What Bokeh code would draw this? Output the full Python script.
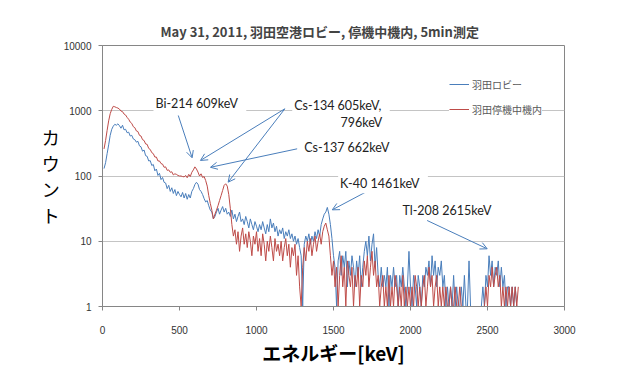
from bokeh.plotting import figure
from bokeh.models import (Range1d, FixedTicker, NumeralTickFormatter, Label, Arrow,
                          OpenHead, Legend, LegendItem, ColumnDataSource)
from bokeh.embed import file_html
from bokeh.resources import INLINE

# ---------------- data ----------------
title_text = "May 31, 2011, 羽田空港ロビー, 停機中機内, 5min測定"
x_title = "エネルギー[keV]"
y_title = "カ\nウ\nン\nト"
series_names = ["羽田ロビー", "羽田停機中機内"]

x_ticks = [0, 500, 1000, 1500, 2000, 2500, 3000]
y_ticks = [1, 10, 100, 1000, 10000]

# energy channels (keV), 10 keV bins
energy = list(range(10, 2710, 10))

# 羽田ロビー (lobby) counts, one row per 100 keV
lobby = [
    130, 160, 220, 300, 420, 520, 580, 620, 600, 630,
    590, 540, 600, 510, 520, 460, 470, 410, 420, 370,
    360, 330, 340, 290, 280, 240, 250, 205, 200, 170,
    172, 145, 150, 120, 128, 102, 110, 88, 95, 80,
    78, 64, 72, 58, 66, 54, 62, 50, 58, 52,
    48, 56, 46, 54, 44, 52, 46, 58, 64, 74,
    80, 75, 62, 58, 52, 45, 40, 42, 35, 30,
    28, 22, 24, 28, 32, 26, 30, 34, 28, 32,
    26, 28, 24, 30, 22, 26, 20, 24, 28, 20,
    22, 18, 24, 20, 16, 22, 18, 15, 20, 17,
    14, 18, 15, 20, 16, 13, 18, 14, 22, 16,
    19, 14, 17, 12, 15, 13, 16, 11, 14, 12,
    15, 11, 13, 10, 12, 9, 11, 8, 6, 1,
    9, 12, 10, 13, 9, 12, 10, 14, 11, 15,
    12, 18, 22, 26, 28, 33, 26, 18, 11, 6,
    4, 1, 5, 7, 3, 6, 4, 7, 2, 5,
    3, 6, 4, 2, 5, 3, 6, 2, 4, 7,
    10, 6, 12, 5, 9, 13, 4, 8, 3, 2,
    4, 2, 3, 2, 4, 1, 3, 2, 4, 2,
    3, 1, 3, 2, 4, 2, 1, 2, 7, 2,
    1, 3, 2, 1, 3, 2, 1, 3, 2, 4,
    3, 5, 2, 6, 3, 5, 2, 4, 3, 5,
    2, 3, 1, 2, 1, 2, 1, 3, 1, 2,
    1, 1, 2, 1, 3, 1, 1, 5, 1, 1,
    1, 1, 1, 1, 1, 1, 2, 1, 3, 2,
    6, 3, 5, 2, 4, 3, 5, 2, 4, 2,
    3, 1, 2, 2, 1, 2, 1, 2, 1, 1,
]

# 羽田停機中機内 (parked aircraft cabin) counts
cabin = [
    260, 350, 500, 700, 900, 1050, 1170, 1150, 1120, 1100,
    1060, 990, 970, 890, 860, 790, 740, 670, 640, 570,
    550, 490, 480, 420, 410, 360, 350, 310, 305, 265,
    255, 228, 220, 195, 195, 170, 170, 155, 152, 136,
    138, 122, 124, 114, 116, 104, 108, 106, 102, 100,
    100, 98, 97, 102, 94, 106, 98, 114, 124, 138,
    128, 115, 100, 108, 95, 98, 85, 70, 50, 38,
    30, 22, 26, 30, 35, 42, 50, 60, 72, 76,
    70, 52, 32, 18, 12, 15, 9, 14, 7, 12,
    16, 9, 13, 8, 14, 10, 6, 12, 9, 14,
    7, 11, 6, 13, 9, 5, 10, 7, 12, 8,
    5, 11, 7, 9, 6, 10, 5, 8, 11, 6,
    9, 4, 8, 6, 9, 3, 6, 2, 1, 4,
    8, 5, 10, 7, 11, 6, 9, 12, 7, 10,
    13, 9, 14, 17, 19, 15, 12, 6, 3, 5,
    2, 4, 1, 3, 6, 2, 4, 1, 5, 3,
    2, 4, 1, 3, 2, 4, 1, 3, 2, 5,
    3, 6, 2, 4, 7, 3, 5, 2, 3, 1,
    2, 3, 1, 2, 1, 3, 1, 2, 1, 3,
    2, 1, 2, 1, 3, 1, 2, 1, 2, 1,
    2, 1, 3, 2, 1, 2, 1, 2, 3, 1,
    2, 4, 2, 3, 1, 2, 3, 1, 2, 1,
    2, 1, 2, 1, 1, 2, 1, 1, 2, 1,
    1, 2, 1, 1, 1, 1, 1, 1, 1, 1,
    1, 1, 1, 1, 1, 1, 1, 1, 2, 1,
    3, 2, 4, 2, 3, 4, 2, 3, 1, 2,
    1, 2, 1, 2, 1, 2, 1, 2, 1, 2,
]

# peak annotations: text, anchor energy (keV), anchor count
peak_labels = ["Bi-214   609keV", "Cs-134   605keV,", "796keV", "Cs-137   662keV",
               "K-40   1461keV", "Tl-208   2615keV"]
peak_label_x = [331, 1232, 1532, 1297, 1530, 1935]
peak_label_y = [1278, 1203, 668, 270, 76, 29.6]

# arrows: start (keV, count) -> end (keV, count)
arrow_x0 = [492, 1184, 1184, 1264, 1708, 2108]
arrow_y0 = [846, 1071, 1071, 261, 56.5, 20.8]
arrow_x1 = [582, 636, 816, 701, 1492, 2498]
arrow_y1 = [190, 173, 80.4, 136, 30.3, 7.66]

# ---------------- figure ----------------
BLUE = "#4a7ebb"
RED = "#be4b48"
JP = "Noto Sans CJK JP"

p = figure(width=632, height=368, x_range=Range1d(0, 3000), y_range=Range1d(1, 10000),
           y_axis_type="log", output_backend="svg", toolbar_location=None,
           min_border_left=102, min_border_right=68, min_border_top=45, min_border_bottom=62)

p.title.text = title_text
p.title.align = "left"
p.title.offset = 58
p.title.text_font = JP
p.title.text_font_size = "13px"
p.title.text_font_style = "bold"
p.title.standoff = 9

p.outline_line_color = "#868686"
p.background_fill_color = "white"
p.border_fill_color = "white"

p.xgrid.visible = False
p.ygrid.grid_line_color = "#c4c4c4"
p.ygrid.ticker = FixedTicker(ticks=y_ticks)

for ax in (p.xaxis[0], p.yaxis[0]):
    ax.axis_line_color = "#868686"
    ax.major_tick_line_color = "#868686"
    ax.minor_tick_line_color = None
    ax.major_tick_in = 0
    ax.major_tick_out = 4
    ax.major_label_text_font = "Liberation Sans"
    ax.major_label_text_font_size = "10px"
    ax.major_label_text_color = "#333333"

p.xaxis.ticker = FixedTicker(ticks=x_ticks)
p.yaxis.ticker = FixedTicker(ticks=y_ticks)
p.yaxis.formatter = NumeralTickFormatter(format="0")
p.xaxis.formatter = NumeralTickFormatter(format="0")
p.xaxis.major_label_standoff = 15
p.yaxis.major_label_standoff = 7

p.xaxis.axis_label = x_title
p.xaxis.axis_label_text_font = JP
p.xaxis.axis_label_text_font_size = "19px"
p.xaxis.axis_label_text_font_style = "bold"
p.xaxis.axis_label_text_color = "black"
p.xaxis.axis_label_standoff = 2

# stacked, upright y-axis title
p.yaxis.axis_label = y_title
p.yaxis.axis_label_orientation = "horizontal"
p.yaxis.axis_label_text_font = JP
p.yaxis.axis_label_text_font_size = "18px"
p.yaxis.axis_label_text_font_style = "normal"
p.yaxis.axis_label_text_color = "black"
p.yaxis.axis_label_text_line_height = 1.0
p.yaxis.axis_label_standoff = 1

src = ColumnDataSource(dict(energy=energy, lobby=lobby, cabin=cabin))
rb = p.line("energy", "lobby", source=src, line_color=BLUE, line_width=1)
rr = p.line("energy", "cabin", source=src, line_color=RED, line_width=1)

# arrows
for xs, ys, xe, ye in zip(arrow_x0, arrow_y0, arrow_x1, arrow_y1):
    p.add_layout(Arrow(x_start=xs, y_start=ys, x_end=xe, y_end=ye,
                       line_color=BLUE, line_width=1,
                       end=OpenHead(size=7, line_color=BLUE, line_width=1)))

# peak labels
for t, lx, ly in zip(peak_labels, peak_label_x, peak_label_y):
    p.add_layout(Label(x=lx, y=ly, text=t, text_align="left", text_baseline="middle",
                       text_font="Lato", text_font_size="12.5px", text_color="#222222",
                       background_fill_color="white", padding=2))

legend = Legend(items=[LegendItem(label=series_names[0], renderers=[rb]),
                       LegendItem(label=series_names[1], renderers=[rr])],
                location=(347, 187), border_line_color=None,
                background_fill_color="white", background_fill_alpha=1.0,
                label_text_font=JP, label_text_font_size="10px", label_text_color="#595959",
                glyph_width=20, glyph_height=20, label_height=20, spacing=5,
                padding=10, margin=0, label_standoff=3)
p.add_layout(legend)

open("out.html", "w").write(file_html(p, INLINE))
